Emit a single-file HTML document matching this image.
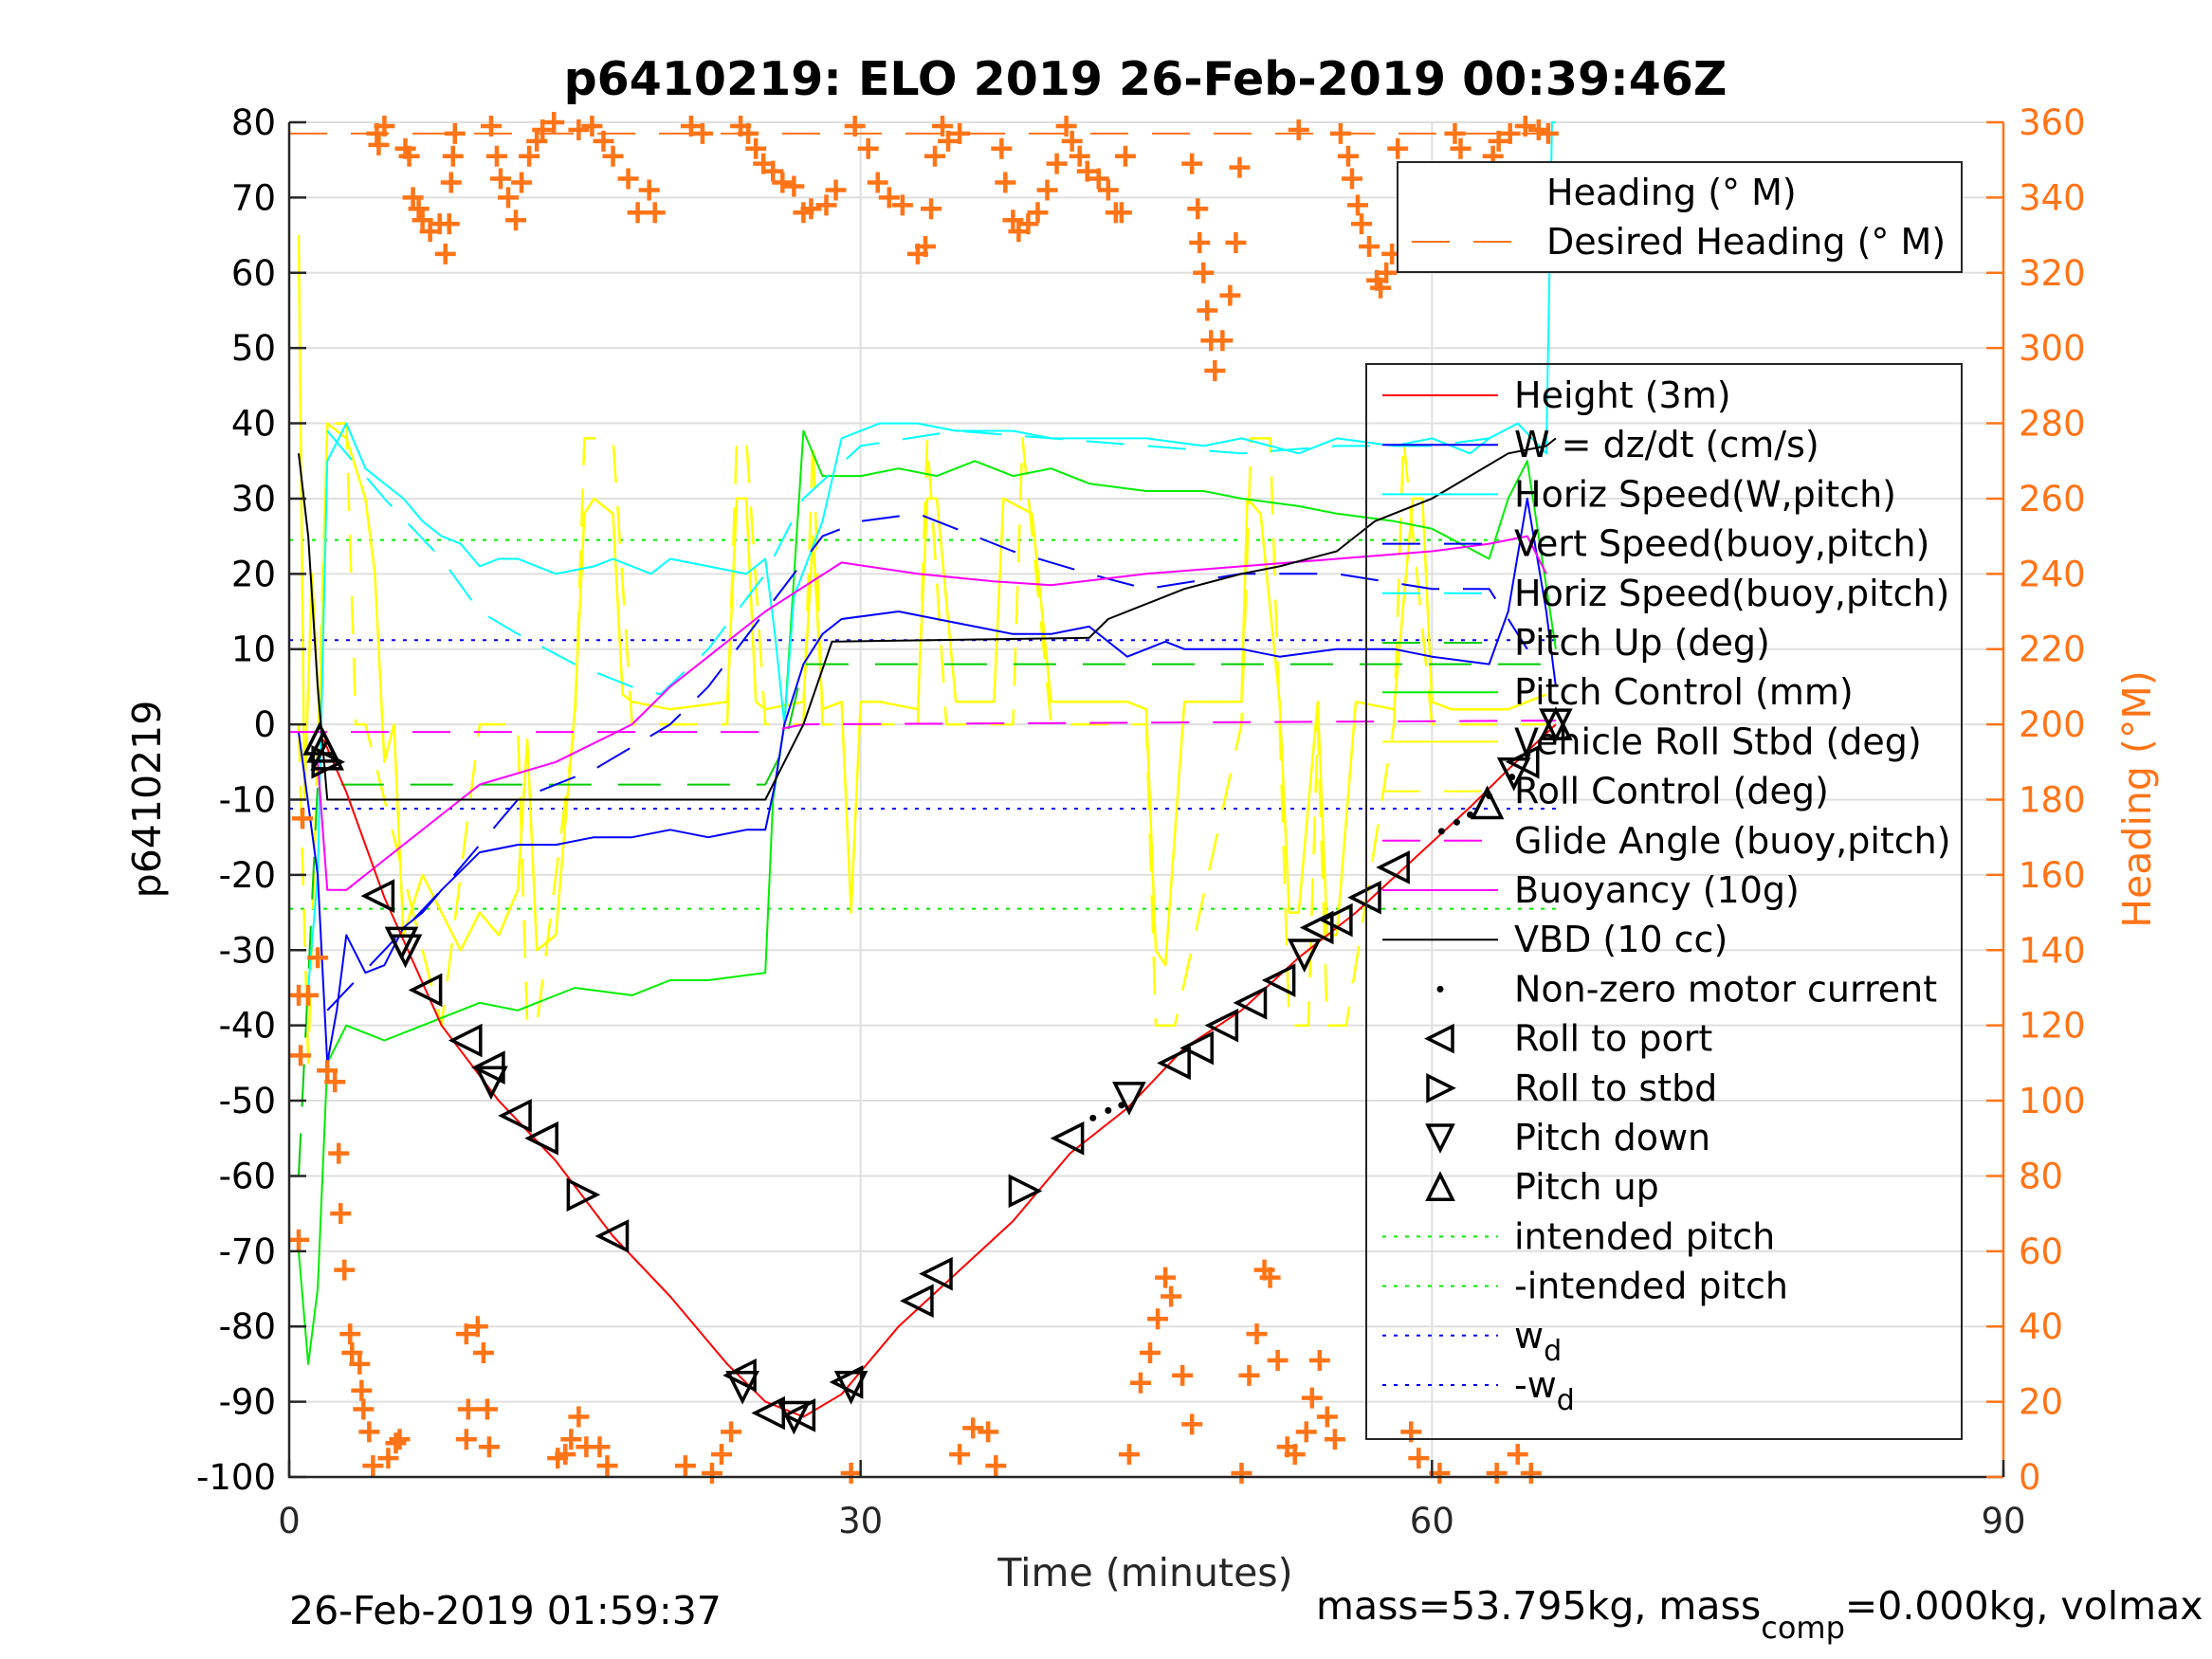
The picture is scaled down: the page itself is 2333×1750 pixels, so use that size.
<!DOCTYPE html>
<html><head><meta charset="utf-8"><style>
html,body{margin:0;padding:0;background:#fff}
svg{display:block;font-family:"Liberation Sans","DejaVu Sans",sans-serif}
</style></head><body>
<svg id="chart" width="2333" height="1750" viewBox="0 0 2333 1750" xmlns="http://www.w3.org/2000/svg">
<rect width="2333" height="1750" fill="#fff"/>
<g id="grid"></g>
<g id="series"></g>
<g id="axes"></g>
<text x="1208" y="100" font-size="49" font-weight="bold" text-anchor="middle" font-family="DejaVu Sans, sans-serif">p6410219: ELO 2019 26-Feb-2019 00:39:46Z</text>
<text x="1208" y="1673" font-size="41" text-anchor="middle" fill="#262626" font-family="DejaVu Sans, sans-serif">Time (minutes)</text>
<text transform="translate(169,843) rotate(-90)" font-size="41" text-anchor="middle" font-family="DejaVu Sans, sans-serif">p6410219</text>
<text transform="translate(2268,843) rotate(-90)" font-size="41" text-anchor="middle" fill="#ff7417" font-family="DejaVu Sans, sans-serif">Heading (°M)</text>
<text x="305" y="1713" font-size="41" font-family="DejaVu Sans, sans-serif">26-Feb-2019 01:59:37</text>
<text x="1388" y="1708" font-size="41" font-family="DejaVu Sans, sans-serif">mass=53.795kg, mass<tspan font-size="32" dy="20">comp</tspan><tspan dy="-20">=0.000kg, volmax</tspan></text>
<g id="legend2"></g>
<g id="legend"></g>
</svg>
<script>
// ---- data (time in minutes, values in left-axis units / heading degrees) ----
const xTicks=[0,30,60,90];
const yTicks=[80,70,60,50,40,30,20,10,0,-10,-20,-30,-40,-50,-60,-70,-80,-90,-100];
const y2Ticks=[360,340,320,300,280,260,240,220,200,180,160,140,120,100,80,60,40,20,0];
const heightT=[1.8,3,5,8,11,14,17,20,23,25,27,29,32,35,38,41,44,47,50,53,56,59,62,64,66.5];
const heightV=[-2,-9,-23,-40,-50,-58,-68,-76,-85,-90,-92,-89,-80,-73,-66,-57,-51,-43,-38,-31,-25,-18,-11,-6,0];
const wT=[0.5,1.5,2,2.5,3,4,5,6,7,8,10,12,14,16,18,20,22,24,25,25.5,26,27,28,29,32,34,36,38,40,42,44,46,47,50,52,55,58,60,63,64,65,66,66.5];
const wV=[-1,-20,-45,-38,-28,-33,-32,-27,-25,-22,-17,-16,-16,-15,-15,-14,-15,-14,-14,-8,0,8,12,14,15,14,13,12,12,13,9,11,10,10,9,10,10,9,8,15,30,15,5];
const vsT=[2,5,8,10,12,14,16,18,20,22,25,28,30,33,36,38,42,45,50,55,60,63,65];
const vsV=[-38,-30,-22,-16,-10,-8,-6,-3,0,5,15,25,27,28,25,23,20,18,20,20,18,18,10];
const hsT=[1,1.5,2,3,4,5,6,7,8,9,10,11,12,14,16,17,19,20,22,24,25,25.5,26,26.5,28,29,31,33,35,38,40,42,45,48,50,53,55,58,60,62,63,64.5,66,66.3,66.5];
const hsV=[-35,-20,35,40,34,32,30,27,25,24,21,22,22,20,21,22,20,22,21,20,22,12,0,17,27,38,40,40,39,39,38,38,38,37,38,36,38,37,38,36,38,40,36,80,80];
const hbT=[2,5,8,10,12,15,17,18,19.5,22,25,27,30,35,40,45,50,55,60,63];
const hbV=[39,30,22,15,12,8,6,5,4,10,20,30,37,39,38,37,36,37,37,38];
const pcT=[0.5,1,1.5,2,3,5,7,10,12,15,18,20,22,25,25.4,26,27,28,30,32,34,36,38,40,42,45,48,50,53,55,58,60,63,64,65,66.5];
const pcV=[-70,-85,-75,-45,-40,-42,-40,-37,-38,-35,-36,-34,-34,-33,-10,0,39,33,33,34,33,35,33,34,32,31,31,30,29,28,27,26,22,30,35,10];
const puT=[0.5,1.5,25,26,27,66.5];
const puV=[-60,-8,-8,-3,8,8];
const rollT=[0.5,0.8,1.2,1.6,2,3,4,4.5,5,5.5,6,7,8,9,10,11,12,12.5,13,14,15,15.5,16,17,17.5,18,20,23,23.5,24,24.5,25,27,27.5,28,29,29.5,30,31,33,33.5,34,35,37,37.5,39,40,42,44,45,45.5,46,47,50,50.3,51,52,52.5,53,54,54.5,55,56,58,59,59.5,60,61,62,64,65,66];
const rollV=[65,-10,20,0,40,38,30,20,-5,0,-28,-20,-25,-30,-25,-28,-22,-2,-30,-28,2,28,30,28,4,3,2,3,30,30,3,2,3,25,2,3,-25,3,3,2,30,30,3,3,30,28,3,3,3,2,-30,-32,3,3,30,28,3,-25,-25,3,-28,-28,3,2,30,30,3,2,2,2,3,4];
const rcT=[0.5,1,2,3,3.5,4,8,10,12,12.5,13,15,15.5,17,18,20,23,23.5,24,25,27,27.5,28,30,33,33.5,34.5,38,38.5,40,45,45.5,46.5,50,50.5,51.5,52,52.5,53.5,54,54.5,55.5,58,58.5,60,66];
const rcV=[0,-45,40,40,0,0,-40,0,0,-40,-40,0,38,38,0,0,0,38,38,0,0,38,0,0,0,38,0,0,38,0,0,-40,-40,0,38,38,0,-40,-40,0,-40,-40,0,38,0,0];
const buoT=[1.5,2,3,5,8,10,14,18,20,25,29,33,37,40,45,50,55,60,63,65,66];
const buoV=[-5,-22,-22,-18,-12,-8,-5,0,5,15,21.5,20,19,18.5,20,21,22,23,24,25,20];
const glideT=[0,25,27,66.5];
const glideV=[-1,-1,0,0.5];
const vbdT=[0.5,1,1.5,2,25,27,28.5,42,43,45,47,50,52,55,56,57,60,62,64,66,66.5];
const vbdV=[36,25,5,-10,-10,0,11,11.5,14,16,18,20,21,23,25,27,30,33,36,37,38];
const motorT=[42.2,43,43.7,60.5,61.3,62,63,64.2,65];
const motorV=[-52.3,-51.3,-50.6,-14.2,-13,-12,-9.5,-7,-4];
const portT=[4.7,7.2,9.3,10.5,11.9,13.3,17,23.7,25.2,26.8,29.3,33,34,40.9,46.5,47.7,49,50.5,52,54,55,56.5,58,64.8];
const portV=[-22.8,-35.3,-42,-45.6,-52,-55,-68,-86.5,-91.5,-91.8,-87.4,-76.6,-73,-55,-45,-43,-40,-37,-34,-27,-26,-23,-19,-5];
const stbdT=[2,15.4,38.6];
const stbdV=[-5,-62.5,-62];
const downT=[5.9,6.1,10.6,23.8,26.5,29.5,44.1,53.3,64.3,66.5];
const downV=[-29,-30,-47.5,-88,-92,-88,-49.6,-30.6,-6.5,0];
const upT=[1.6,1.8,2,62.9,66.5];
const upV=[-2,-3,-4,-10.5,0];
const hdgT=[0.7,1,0.5,0.6,0.5,1.5,2,2.4,2.6,2.7,2.9,3.2,3.3,3.7,3.8,3.9,4.2,4.4,5.2,5.6,5.8,4.6,4.7,5,6.1,6.3,6.5,6.8,7,7.4,7.9,8.2,8.4,8.5,8.6,8.7,10.6,10.9,11.1,11.5,11.9,12.2,12.6,13,13.3,13.9,15.2,15.9,16.5,17,17.8,18.3,18.9,19.2,21.1,21.7,23.7,24.1,24.5,24.9,25.4,25.9,26.5,27,27.4,28.2,28.7,29.7,30.4,30.9,31.5,32.2,33,33.4,33.7,33.9,34.3,34.6,35.2,37.4,37.6,38,38.3,38.8,39.3,39.8,40.3,40.8,41.1,41.5,41.9,42.5,43,43.4,43.7,43.9,47.4,47.7,47.8,48,48.2,48.4,48.6,49,49.4,49.7,49.9,53,55.2,55.6,55.8,56.1,56.3,56.7,57.1,57.3,57.6,57.9,58.2,61.2,61.5,61.9,62.3,62.8,63.2,63.5,64.1,64.9,65.6,66.1,9.3,9.9,10.2,9.4,10.4,9.3,10.5,14.1,14.5,14.8,15.2,15.6,16.3,16.7,20.8,22.2,22.7,23.2,29.5,35.2,35.9,36.7,37.1,44.1,44.7,45.2,45.6,46,46.3,46.9,47.4,50,50.4,50.8,51.2,51.5,51.9,52.4,52.8,53.4,53.7,54.1,54.5,54.9,58.9,59.3,60.4,63.4,64.5,65.2];
const hdgV=[175,128,128,112,63,138,108,105,86,70,55,38,33,30,23,18,12,3,5,9,10,357,354,359,353,351,340,337,334,331,333,325,333,344,351,357,359,351,345,340,334,344,351,355,358,360,358,359,355,351,345,336,342,336,359,357,359,357,353,349,347,344,343,336,337,338,342,359,353,344,340,338,325,327,337,351,359,355,357,353,344,334,331,333,336,342,349,359,355,351,347,345,342,336,336,351,349,337,328,320,310,302,294,302,314,328,348,358,357,351,345,338,333,327,318,316,320,325,353,357,353,345,340,344,351,355,357,359,358,357,38,40,33,18,18,10,8,5,6,10,16,8,8,3,3,1,6,12,1,6,13,12,3,6,25,33,42,53,48,27,14,1,27,38,55,53,31,8,6,12,21,31,16,10,12,5,1,1,6,1];
const desT=[0,66.5];
const desV=[357,357];
const pitchLim=[24.5,-24.5];
const wdLim=[11.2,-11.2];

// ---- axes ----
const L=305,R=2113,T=129,B=1558;
const xS=t=>L+(t-0)/90*(R-L);
const yS=v=>T+(80-v)/180*(B-T);
const y2S=h=>B-h/360*(B-T);
const NS="http://www.w3.org/2000/svg";
function mk(tag,parent,attrs){const e=document.createElementNS(NS,tag);for(const k in attrs)e.setAttribute(k,attrs[k]);parent.appendChild(e);return e;}
const grid=document.getElementById('grid'),ser=document.getElementById('series'),ax=document.getElementById('axes');

yTicks.forEach(v=>{
  const g=mk('line',grid,{x1:L,x2:R,y1:yS(v),y2:yS(v),stroke:'#dfdfdf','stroke-width':2});
  
  
});
xTicks.forEach(t=>{
  const g=mk('line',grid,{x1:xS(t),x2:xS(t),y1:T,y2:B,stroke:'#dfdfdf','stroke-width':2});
  
  
});

function poly(ts,vs,sc,color,name,dash,w){
  const pts=ts.map((t,i)=>xS(t).toFixed(1)+','+sc(vs[i]).toFixed(1)).join(' ');
  const p=mk('polyline',ser,{points:pts,fill:'none',stroke:color,'stroke-width':w||2,'stroke-linejoin':'round'});
  if(dash)p.setAttribute('stroke-dasharray',dash);
  
  
}
pitchLim.forEach(v=>poly([0,66.5],[v,v],yS,'#00ee00','intended-pitch-line','4 8'));
wdLim.forEach(v=>poly([0,66.5],[v,v],yS,'#0000ff','wd-line','4 8'));
poly(rcT,rcV,yS,'#ffff00','roll-control-line','40 25',2.5);
poly(rollT,rollV,yS,'#ffff00','vehicle-roll-line',null,2.5);
poly(puT,puV,yS,'#00cc00','pitch-up-line','45 28');
poly(pcT,pcV,yS,'#00ee00','pitch-control-line');
poly(hbT,hbV,yS,'#00ffff','horiz-speed-buoy-line','40 25');
poly(hsT,hsV,yS,'#00ffff','horiz-speed-w-line');
poly(vsT,vsV,yS,'#0000ff','vert-speed-buoy-line','40 25');
poly(wT,wV,yS,'#0000ff','w-line');
poly(glideT,glideV,yS,'#ff00ff','glide-angle-line','40 25');
poly(buoT,buoV,yS,'#ff00ff','buoyancy-line');
poly(vbdT,vbdV,yS,'#000000','vbd-line');
poly(heightT,heightV,yS,'#ff0000','height-line');
poly(desT,desV,y2S,'#ff7417','desired-heading-line','40 25');
hdgT.forEach((t,i)=>{
  const x=xS(t),y=y2S(hdgV[i]);
  const p=mk('path',ser,{d:`M${x-11},${y}H${x+11}M${x},${y-11}V${y+11}`,stroke:'#ff7417','stroke-width':4.5});
  
  
});
motorT.forEach((t,i)=>{
  const c=mk('circle',ser,{cx:xS(t),cy:yS(motorV[i]),r:3.5,fill:'#000'});
  
  
});
function tri(x,y,dir,s){
  s=s||15;
  if(dir==='l')return `M${x-s},${y}L${x+s},${y-s}L${x+s},${y+s}Z`;
  if(dir==='r')return `M${x+s},${y}L${x-s},${y-s}L${x-s},${y+s}Z`;
  if(dir==='d')return `M${x},${y+s}L${x-s},${y-s}L${x+s},${y-s}Z`;
  return `M${x},${y-s}L${x-s},${y+s}L${x+s},${y+s}Z`;
}
[[portT,portV,'l','roll-port-marker'],[stbdT,stbdV,'r','roll-stbd-marker'],[downT,downV,'d','pitch-down-marker'],[upT,upV,'u','pitch-up-marker']].forEach(([ts,vs,d,n])=>{
  ts.forEach((t,i)=>{
    const p=mk('path',ser,{d:tri(xS(t),yS(vs[i]),d),fill:'none',stroke:'#000','stroke-width':3.5});
    
    
  });
});

mk('path',ax,{d:`M${L},${T}V${B}H${R}`,fill:'none',stroke:'#262626','stroke-width':2.5});
mk('line',ax,{x1:R,x2:R,y1:T,y2:B-8,stroke:'#ff7417','stroke-width':2.5});
mk('line',ax,{x1:R,x2:R,y1:B-8,y2:B,stroke:'#262626','stroke-width':2.5});
yTicks.forEach(v=>{
  mk('line',ax,{x1:L,x2:L+18,y1:yS(v),y2:yS(v),stroke:'#262626','stroke-width':2.5});
  const t=mk('text',ax,{x:L-14,y:yS(v)+13,'font-size':37,'text-anchor':'end','font-family':'DejaVu Sans, sans-serif'});
  t.textContent=v;
  
  
});
y2Ticks.forEach(h=>{
  mk('line',ax,{x1:R-18,x2:R,y1:y2S(h),y2:y2S(h),stroke:'#ff7417','stroke-width':2.5});
  const t=mk('text',ax,{x:R+16,y:y2S(h)+13,'font-size':37,fill:'#ff7417','font-family':'DejaVu Sans, sans-serif'});
  t.textContent=h;
  
  
});
xTicks.forEach(tv=>{
  mk('line',ax,{x1:xS(tv),x2:xS(tv),y1:B,y2:B-18,stroke:'#262626','stroke-width':2.5});
  const t=mk('text',ax,{x:xS(tv),y:1617,'font-size':37,'text-anchor':'middle',fill:'#262626','font-family':'DejaVu Sans, sans-serif'});
  t.textContent=tv;
  
  
});

const lg2=document.getElementById('legend2');
mk('rect',lg2,{x:1474,y:171,width:595,height:116,fill:'#fff',stroke:'#262626','stroke-width':2});
function legEntry(g,x,y,label,draw){
  draw(y);
  const t=mk('text',g,{x:x,y:y+13,'font-size':38,'font-family':'DejaVu Sans, sans-serif'});
  t.innerHTML=label;
  
  
}
legEntry(lg2,1631,203,'Heading (° M)',y=>{});
legEntry(lg2,1631,255,'Desired Heading (° M)',y=>{mk('line',lg2,{x1:1489,x2:1600,y1:y,y2:y,stroke:'#ff7417','stroke-width':2,'stroke-dasharray':'40 25'});});

const lg=document.getElementById('legend');
mk('rect',lg,{x:1441,y:384,width:628,height:1134,fill:'none',stroke:'#262626','stroke-width':2});
const legItems=[
 ['Height (3m)','#ff0000',null],['W = dz/dt (cm/s)','#0000ff',null],['Horiz Speed(W,pitch)','#00ffff',null],
 ['Vert Speed(buoy,pitch)','#0000ff','40 25'],['Horiz Speed(buoy,pitch)','#00ffff','40 25'],['Pitch Up (deg)','#00cc00','40 25'],
 ['Pitch Control (mm)','#00ee00',null],['Vehicle Roll Stbd (deg)','#ffff00',null],['Roll Control (deg)','#ffff00','40 25'],
 ['Glide Angle (buoy,pitch)','#ff00ff','40 25'],['Buoyancy (10g)','#ff00ff',null],['VBD (10 cc)','#000000',null],
 ['Non-zero motor current','dot'],['Roll to port','l'],['Roll to stbd','r'],['Pitch down','d'],['Pitch up','u'],
 ['intended pitch','#00ee00','4 8'],['-intended pitch','#00ee00','4 8'],['w<tspan font-size="30" dy="13">d</tspan>','#0000ff','4 8'],['-w<tspan font-size="30" dy="13">d</tspan>','#0000ff','4 8']
];
legItems.forEach((it,i)=>{
  const y=417+i*52.2;
  legEntry(lg,1597,y,it[0],yy=>{
    if(it[1]==='dot'){mk('circle',lg,{cx:1519,cy:yy,r:3.5,fill:'#000'});}
    else if(it[1].length===1){mk('path',lg,{d:tri(1519,yy,it[1],13),fill:'none',stroke:'#000','stroke-width':3.5});}
    else{const l=mk('line',lg,{x1:1458,x2:1580,y1:yy,y2:yy,stroke:it[1],'stroke-width':2});if(it[2])l.setAttribute('stroke-dasharray',it[2]);}
  });
});
</script>
</body></html>
